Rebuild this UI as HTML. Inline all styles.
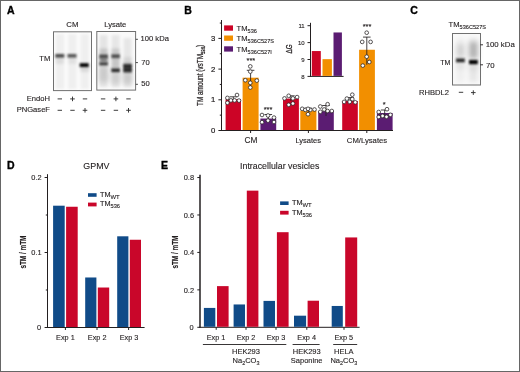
<!DOCTYPE html>
<html><head><meta charset="utf-8">
<style>
html,body{margin:0;padding:0;background:#fff;overflow:hidden;}
svg{display:block;will-change:transform;}
text{font-family:"Liberation Sans",sans-serif;fill:#231f20;stroke:#231f20;stroke-width:0.12px;}
</style></head>
<body>
<svg width="520" height="372" viewBox="0 0 520 372">
<defs>
<filter id="b06" x="-50%" y="-100%" width="200%" height="300%"><feGaussianBlur stdDeviation="0.6"/></filter>
<filter id="b09" x="-50%" y="-100%" width="200%" height="300%"><feGaussianBlur stdDeviation="0.9"/></filter>
<filter id="b11" x="-50%" y="-100%" width="200%" height="300%"><feGaussianBlur stdDeviation="1.1"/></filter>
<filter id="b15" x="-50%" y="-50%" width="200%" height="200%"><feGaussianBlur stdDeviation="1.5"/></filter>
<filter id="b25" x="-50%" y="-50%" width="200%" height="200%"><feGaussianBlur stdDeviation="2.5"/></filter>
</defs>
<rect x="0" y="0" width="520" height="372" fill="#fff"/>
<rect x="0.5" y="0.5" width="519" height="371" fill="none" stroke="#666" stroke-width="1"/>
<text x="6.9" y="14.2" font-size="10.5" text-anchor="start" font-weight="bold" style="fill:#000;stroke:#000;stroke-width:0.35px">A</text>
<text x="72.4" y="26.7" font-size="7.8" text-anchor="middle" font-weight="normal" >CM</text>
<text x="115.3" y="26.7" font-size="7.6" text-anchor="middle" font-weight="normal" >Lysate</text>
<g>
<rect x="53.50" y="31.80" width="38.00" height="58.80" fill="#fcfcfc" />
<g filter="url(#b15)">
<rect x="55.60" y="34.00" width="8.60" height="55.00" fill="#efefef" />
<rect x="68.10" y="34.00" width="8.60" height="55.00" fill="#efefef" />
<rect x="80.50" y="34.00" width="8.60" height="55.00" fill="#efefef" />
<rect x="55.80" y="57.00" width="8.20" height="7.00" fill="#dcdcdc" />
<rect x="68.30" y="57.00" width="8.20" height="7.00" fill="#e0e0e0" />
<rect x="80.50" y="66.00" width="8.60" height="6.00" fill="#d8d8d8" />
</g>
<g filter="url(#b09)">
<rect x="55.30" y="54.00" width="9.00" height="3.60" fill="#4a4a4a" />
<rect x="67.50" y="54.00" width="9.00" height="3.60" fill="#565656" />
<rect x="79.70" y="63.20" width="9.00" height="3.80" fill="#000" />
</g>
<rect x="53.5" y="31.8" width="38" height="58.8" fill="none" stroke="#707070" stroke-width="1"/>
</g>
<g>
<rect x="96.80" y="31.50" width="38.80" height="58.60" fill="#fafafa" />
<g filter="url(#b15)">
<rect x="99.60" y="35.00" width="8.00" height="52.00" fill="#e4e4e4" />
<rect x="111.60" y="35.00" width="8.00" height="52.00" fill="#e6e6e6" />
<rect x="123.60" y="38.00" width="8.00" height="49.00" fill="#e6e6e6" />
<rect x="99.60" y="48.50" width="8.00" height="6.00" fill="#c4c4c4" />
<rect x="111.60" y="48.50" width="8.00" height="6.00" fill="#c8c8c8" />
<rect x="99.60" y="57.00" width="8.00" height="6.00" fill="#888" />
<rect x="111.60" y="57.50" width="8.00" height="11.00" fill="#c6c6c6" />
<rect x="123.60" y="57.00" width="8.00" height="7.00" fill="#d4d4d4" />
</g>
<g filter="url(#b25)">
<rect x="99.60" y="66.00" width="8.00" height="16.00" fill="#c8c8c8" />
<rect x="111.60" y="72.00" width="8.00" height="12.00" fill="#cccccc" />
<rect x="123.60" y="72.00" width="8.00" height="12.00" fill="#c8c8c8" />
</g>
<g filter="url(#b09)">
<rect x="99.30" y="54.40" width="8.60" height="4.00" fill="#4a4a4a" />
<rect x="99.30" y="62.30" width="8.60" height="3.10" fill="#3a3a3a" />
<rect x="111.30" y="54.20" width="8.60" height="4.00" fill="#505050" />
<rect x="111.30" y="68.40" width="8.60" height="3.80" fill="#2e2e2e" />
<rect x="123.30" y="63.60" width="8.60" height="9.00" fill="#444" />
<rect x="123.30" y="65.00" width="8.60" height="2.40" fill="#262626" />
<rect x="123.30" y="68.60" width="8.60" height="2.60" fill="#262626" />
</g>
<rect x="96.8" y="31.5" width="38.8" height="58.6" fill="none" stroke="#707070" stroke-width="1"/>
</g>
<line x1="135.8" y1="39.3" x2="137.9" y2="39.3" stroke="#333" stroke-width="0.9"/>
<line x1="135.8" y1="62.6" x2="137.9" y2="62.6" stroke="#333" stroke-width="0.9"/>
<line x1="135.8" y1="84.3" x2="137.9" y2="84.3" stroke="#333" stroke-width="0.9"/>
<text x="140.6" y="41.3" font-size="7.6" text-anchor="start" font-weight="normal" >100 kDa</text>
<text x="141.2" y="64.8" font-size="7.6" text-anchor="start" font-weight="normal" >70</text>
<text x="141.2" y="86.1" font-size="7.6" text-anchor="start" font-weight="normal" >50</text>
<text x="39.3" y="61.0" font-size="7.6" text-anchor="start" font-weight="normal" >TM</text>
<text x="50.0" y="100.8" font-size="7.6" text-anchor="end" font-weight="normal" >EndoH</text>
<text x="50.0" y="112.2" font-size="7.6" text-anchor="end" font-weight="normal" >PNGaseF</text>
<line x1="57.599999999999994" y1="98.9" x2="62.0" y2="98.9" stroke="#333" stroke-width="0.95"/>
<line x1="70.2" y1="98.9" x2="74.8" y2="98.9" stroke="#333" stroke-width="0.95"/>
<line x1="72.5" y1="96.60000000000001" x2="72.5" y2="101.2" stroke="#333" stroke-width="0.95"/>
<line x1="82.8" y1="98.9" x2="87.2" y2="98.9" stroke="#333" stroke-width="0.95"/>
<line x1="100.89999999999999" y1="98.9" x2="105.3" y2="98.9" stroke="#333" stroke-width="0.95"/>
<line x1="113.60000000000001" y1="98.9" x2="118.2" y2="98.9" stroke="#333" stroke-width="0.95"/>
<line x1="115.9" y1="96.60000000000001" x2="115.9" y2="101.2" stroke="#333" stroke-width="0.95"/>
<line x1="126.3" y1="98.9" x2="130.7" y2="98.9" stroke="#333" stroke-width="0.95"/>
<line x1="57.599999999999994" y1="110.3" x2="62.0" y2="110.3" stroke="#333" stroke-width="0.95"/>
<line x1="70.3" y1="110.3" x2="74.7" y2="110.3" stroke="#333" stroke-width="0.95"/>
<line x1="82.7" y1="110.3" x2="87.3" y2="110.3" stroke="#333" stroke-width="0.95"/>
<line x1="85.0" y1="108.0" x2="85.0" y2="112.6" stroke="#333" stroke-width="0.95"/>
<line x1="100.89999999999999" y1="110.3" x2="105.3" y2="110.3" stroke="#333" stroke-width="0.95"/>
<line x1="113.7" y1="110.3" x2="118.10000000000001" y2="110.3" stroke="#333" stroke-width="0.95"/>
<line x1="126.2" y1="110.3" x2="130.8" y2="110.3" stroke="#333" stroke-width="0.95"/>
<line x1="128.5" y1="108.0" x2="128.5" y2="112.6" stroke="#333" stroke-width="0.95"/>
<text x="184.3" y="14.1" font-size="10.5" text-anchor="start" font-weight="bold" style="fill:#000;stroke:#000;stroke-width:0.35px">B</text>
<line x1="221.5" y1="20.0" x2="221.5" y2="131" stroke="#231f20" stroke-width="1"/>
<line x1="221" y1="130.5" x2="393" y2="130.5" stroke="#231f20" stroke-width="1"/>
<line x1="218.4" y1="130.5" x2="221.5" y2="130.5" stroke="#231f20" stroke-width="1"/>
<text x="215.4" y="132.9" font-size="7.7" text-anchor="end" font-weight="normal" style="stroke-width:0.22px">0</text>
<line x1="218.4" y1="99.8" x2="221.5" y2="99.8" stroke="#231f20" stroke-width="1"/>
<text x="215.4" y="102.2" font-size="7.7" text-anchor="end" font-weight="normal" style="stroke-width:0.22px">1</text>
<line x1="218.4" y1="69.1" x2="221.5" y2="69.1" stroke="#231f20" stroke-width="1"/>
<text x="215.4" y="71.5" font-size="7.7" text-anchor="end" font-weight="normal" style="stroke-width:0.22px">2</text>
<line x1="218.4" y1="38.400000000000006" x2="221.5" y2="38.400000000000006" stroke="#231f20" stroke-width="1"/>
<text x="215.4" y="40.800000000000004" font-size="7.7" text-anchor="end" font-weight="normal" style="stroke-width:0.22px">3</text>
<line x1="219.8" y1="115.15" x2="221.5" y2="115.15" stroke="#231f20" stroke-width="1"/>
<line x1="219.8" y1="84.45" x2="221.5" y2="84.45" stroke="#231f20" stroke-width="1"/>
<line x1="219.8" y1="53.75" x2="221.5" y2="53.75" stroke="#231f20" stroke-width="1"/>
<line x1="219.8" y1="23.049999999999997" x2="221.5" y2="23.049999999999997" stroke="#231f20" stroke-width="1"/>
<line x1="250.6" y1="130.5" x2="250.6" y2="133" stroke="#231f20" stroke-width="1"/>
<line x1="308.4" y1="130.5" x2="308.4" y2="133" stroke="#231f20" stroke-width="1"/>
<line x1="366.8" y1="130.5" x2="366.8" y2="133" stroke="#231f20" stroke-width="1"/>
<text transform="translate(202.7,106.0) rotate(-90)" style="stroke-width:0.25px" font-size="8.2" textLength="61.2" lengthAdjust="spacingAndGlyphs">TM amount (vsTM<tspan font-size="5.4" dy="1.9">536</tspan><tspan dy="-1.9">)</tspan></text>
<text x="251.0" y="143.0" font-size="8.3" text-anchor="middle" font-weight="normal" >CM</text>
<text x="308.2" y="142.9" font-size="7.5" text-anchor="middle" font-weight="normal" >Lysates</text>
<text x="367.0" y="142.8" font-size="7.7" text-anchor="middle" font-weight="normal" >CM/Lysates</text>
<rect x="225.60" y="99.19" width="15.40" height="30.82" fill="#cc0426" />
<rect x="242.60" y="77.70" width="16.00" height="52.31" fill="#f28f00" />
<rect x="260.40" y="118.53" width="15.80" height="11.48" fill="#5b1c72" />
<rect x="283.00" y="98.57" width="15.90" height="31.44" fill="#cc0426" />
<rect x="300.30" y="110.55" width="16.10" height="19.46" fill="#f28f00" />
<rect x="318.20" y="111.16" width="15.60" height="18.85" fill="#5b1c72" />
<rect x="342.20" y="101.03" width="15.60" height="28.98" fill="#cc0426" />
<rect x="359.10" y="49.76" width="15.80" height="80.25" fill="#f28f00" />
<rect x="376.90" y="113.00" width="15.70" height="17.01" fill="#5b1c72" />
<g stroke="#231f20" stroke-width="0.85" fill="none">
<path d="M250.6 70.3V86M246.79999999999998 70.3H254.4"/>
<path d="M366.8 37.1V64.7M363.0 37.1H370.6"/>
<path d="M233.3 96.8V101M229.5 96.8H237.10000000000002"/>
<path d="M268.3 114.5V121M264.5 114.5H272.1"/>
<path d="M290.9 95.8V101M287.09999999999997 95.8H294.7"/>
<path d="M308.4 108.2V112.4M304.59999999999997 108.2H312.2"/>
<path d="M326.0 105.5V116M322.2 105.5H329.8"/>
<path d="M350.0 97.6V104M346.2 97.6H353.8"/>
<path d="M384.7 110.0V116M380.9 110.0H388.5"/>
</g>
<g fill="#fff" stroke="#231f20" stroke-width="0.75">
<circle cx="227.4" cy="97.9" r="1.85"/>
<circle cx="227.4" cy="102.8" r="1.85"/>
<circle cx="230.9" cy="100.4" r="1.85"/>
<circle cx="234.6" cy="100.4" r="1.85"/>
<circle cx="237" cy="95" r="1.85"/>
<circle cx="239" cy="100.6" r="1.85"/>
<circle cx="250.3" cy="66.4" r="1.85"/>
<circle cx="250.3" cy="71.6" r="1.85"/>
<circle cx="245.3" cy="80.2" r="1.85"/>
<circle cx="256.8" cy="80.6" r="1.85"/>
<circle cx="250.3" cy="82.8" r="1.85"/>
<circle cx="250.3" cy="87.5" r="1.85"/>
<circle cx="262" cy="115" r="1.85"/>
<circle cx="268" cy="115.5" r="1.85"/>
<circle cx="274" cy="117.6" r="1.85"/>
<circle cx="262" cy="122.2" r="1.85"/>
<circle cx="268" cy="120.6" r="1.85"/>
<circle cx="274" cy="122" r="1.85"/>
<circle cx="284.5" cy="98.4" r="1.85"/>
<circle cx="288.7" cy="95.8" r="1.85"/>
<circle cx="292.9" cy="98.4" r="1.85"/>
<circle cx="297.1" cy="97.1" r="1.85"/>
<circle cx="288.7" cy="104.8" r="1.85"/>
<circle cx="292.9" cy="103.5" r="1.85"/>
<circle cx="302.2" cy="108.8" r="1.85"/>
<circle cx="305.3" cy="109.9" r="1.85"/>
<circle cx="310.3" cy="109.9" r="1.85"/>
<circle cx="314.5" cy="109.5" r="1.85"/>
<circle cx="308" cy="114.2" r="1.85"/>
<circle cx="308" cy="108.8" r="1.85"/>
<circle cx="320.3" cy="106.5" r="1.85"/>
<circle cx="320.3" cy="111.8" r="1.85"/>
<circle cx="324.2" cy="109.5" r="1.85"/>
<circle cx="327.6" cy="104.2" r="1.85"/>
<circle cx="327.6" cy="111" r="1.85"/>
<circle cx="331.8" cy="111" r="1.85"/>
<circle cx="344.1" cy="101.9" r="1.85"/>
<circle cx="346.9" cy="98.6" r="1.85"/>
<circle cx="349.7" cy="101.9" r="1.85"/>
<circle cx="352.3" cy="99.1" r="1.85"/>
<circle cx="352.3" cy="94.7" r="1.85"/>
<circle cx="355.3" cy="102.3" r="1.85"/>
<circle cx="366.7" cy="32.7" r="1.85"/>
<circle cx="362.2" cy="41.9" r="1.85"/>
<circle cx="370.6" cy="41.9" r="1.85"/>
<circle cx="366.7" cy="56.7" r="1.85"/>
<circle cx="369.3" cy="62" r="1.85"/>
<circle cx="362.8" cy="65.6" r="1.85"/>
<circle cx="378.7" cy="112" r="1.85"/>
<circle cx="378.7" cy="117" r="1.85"/>
<circle cx="382.6" cy="115.9" r="1.85"/>
<circle cx="387" cy="109.2" r="1.85"/>
<circle cx="386.5" cy="116.8" r="1.85"/>
<circle cx="390.4" cy="114.8" r="1.85"/>
</g>
<text x="250.9" y="63.0" font-size="7.4" text-anchor="middle" font-weight="normal" >***</text>
<text x="268.0" y="112.3" font-size="7.4" text-anchor="middle" font-weight="normal" >***</text>
<text x="367.0" y="28.8" font-size="7.4" text-anchor="middle" font-weight="normal" >***</text>
<text x="384.3" y="107.0" font-size="7.4" text-anchor="middle" font-weight="normal" >*</text>
<rect x="224.10" y="25.40" width="8.90" height="5.30" fill="#cc0426" />
<rect x="224.10" y="35.50" width="8.90" height="5.30" fill="#f28f00" />
<rect x="224.10" y="46.30" width="8.90" height="5.30" fill="#5b1c72" />
<text x="236.6" y="31.0" font-size="7.6">TM<tspan font-size="5.6" dy="1.9">536</tspan></text>
<text x="236.6" y="41.3" font-size="7.6">TM<tspan font-size="5.6" dy="1.9">536C527S</tspan></text>
<text x="236.6" y="52.0" font-size="7.6">TM<tspan font-size="5.6" dy="1.9">536C527I</tspan></text>
<line x1="310.5" y1="22.8" x2="310.5" y2="76.9" stroke="#231f20" stroke-width="1"/>
<line x1="310" y1="76.4" x2="343.6" y2="76.4" stroke="#231f20" stroke-width="1"/>
<line x1="307.5" y1="76.4" x2="310.5" y2="76.4" stroke="#231f20" stroke-width="1"/>
<text x="304.7" y="78.5" font-size="6.0" text-anchor="end" font-weight="normal" >8</text>
<line x1="307.5" y1="59.5" x2="310.5" y2="59.5" stroke="#231f20" stroke-width="1"/>
<text x="304.7" y="61.6" font-size="6.0" text-anchor="end" font-weight="normal" >9</text>
<line x1="307.5" y1="42.6" x2="310.5" y2="42.6" stroke="#231f20" stroke-width="1"/>
<text x="304.7" y="44.7" font-size="6.0" text-anchor="end" font-weight="normal" >10</text>
<line x1="307.5" y1="25.700000000000003" x2="310.5" y2="25.700000000000003" stroke="#231f20" stroke-width="1"/>
<text x="304.7" y="27.800000000000004" font-size="6.0" text-anchor="end" font-weight="normal" >11</text>
<rect x="311.80" y="51.05" width="9.00" height="24.85" fill="#cc0426" />
<rect x="322.50" y="59.16" width="9.40" height="16.74" fill="#f28f00" />
<rect x="333.50" y="32.46" width="8.40" height="43.44" fill="#5b1c72" />
<text transform="translate(292.4,53.4) rotate(-90)" font-size="8.4" style="stroke-width:0.25px" textLength="9.2" lengthAdjust="spacingAndGlyphs">ΔG</text>
<text x="410.3" y="14.2" font-size="10.5" text-anchor="start" font-weight="bold" style="fill:#000;stroke:#000;stroke-width:0.35px">C</text>
<text x="448.6" y="26.8" font-size="7.6">TM<tspan font-size="5.6" dy="1.9">536C527S</tspan></text>
<g>
<rect x="452.50" y="33.50" width="28.00" height="51.50" fill="#fafafa" />
<g filter="url(#b25)">
<rect x="456.50" y="38.00" width="8.00" height="44.00" fill="#eeeeee" />
<rect x="469.00" y="38.00" width="8.80" height="44.00" fill="#e6e6e6" />
<rect x="469.00" y="42.00" width="8.80" height="16.00" fill="#b4b4b4" />
<rect x="456.50" y="44.00" width="8.00" height="13.00" fill="#d2d2d2" />
<rect x="456.50" y="63.00" width="8.00" height="6.00" fill="#e0e0e0" />
<rect x="469.00" y="65.00" width="8.80" height="6.00" fill="#dadada" />
</g>
<g filter="url(#b11)">
<rect x="456.00" y="58.50" width="8.80" height="3.80" fill="#262626" />
<rect x="469.00" y="60.00" width="8.80" height="4.20" fill="#000" />
<rect x="472.00" y="60.30" width="5.00" height="3.60" fill="#000" />
</g>
<rect x="452.5" y="33.5" width="28" height="51.5" fill="none" stroke="#707070" stroke-width="1"/>
</g>
<line x1="480.3" y1="44.8" x2="483.0" y2="44.8" stroke="#231f20" stroke-width="0.9"/>
<line x1="480.3" y1="64.8" x2="483.0" y2="64.8" stroke="#231f20" stroke-width="0.9"/>
<text x="485.7" y="47.2" font-size="7.8" text-anchor="start" font-weight="normal" >100 kDa</text>
<text x="486.0" y="68.0" font-size="7.8" text-anchor="start" font-weight="normal" >70</text>
<text x="440.3" y="65.3" font-size="7.0" text-anchor="start" font-weight="normal" >TM</text>
<text x="449.0" y="94.5" font-size="7.6" text-anchor="end" font-weight="normal" >RHBDL2</text>
<line x1="458.8" y1="92.3" x2="463.2" y2="92.3" stroke="#333" stroke-width="0.95"/>
<line x1="471.0" y1="92.6" x2="475.6" y2="92.6" stroke="#333" stroke-width="0.95"/>
<line x1="473.3" y1="90.3" x2="473.3" y2="94.89999999999999" stroke="#333" stroke-width="0.95"/>
<text x="6.9" y="169.3" font-size="10.5" text-anchor="start" font-weight="bold" style="fill:#000;stroke:#000;stroke-width:0.35px">D</text>
<text x="96.4" y="169.3" font-size="8.9" text-anchor="middle" font-weight="normal" >GPMV</text>
<line x1="47.5" y1="174.2" x2="47.5" y2="328" stroke="#231f20" stroke-width="1"/>
<line x1="47" y1="327.5" x2="144.6" y2="327.5" stroke="#231f20" stroke-width="1"/>
<line x1="44.6" y1="177.5" x2="47.5" y2="177.5" stroke="#231f20" stroke-width="1"/>
<text x="41.6" y="180.2" font-size="7.4" text-anchor="end" font-weight="normal" >0.2</text>
<line x1="44.6" y1="252.5" x2="47.5" y2="252.5" stroke="#231f20" stroke-width="1"/>
<text x="41.6" y="255.2" font-size="7.4" text-anchor="end" font-weight="normal" >0.1</text>
<line x1="44.6" y1="327.5" x2="47.5" y2="327.5" stroke="#231f20" stroke-width="1"/>
<text x="41.0" y="330.2" font-size="7.4" text-anchor="end" font-weight="normal" >0</text>
<line x1="45.8" y1="290.0" x2="47.5" y2="290.0" stroke="#231f20" stroke-width="1"/>
<line x1="45.8" y1="215.0" x2="47.5" y2="215.0" stroke="#231f20" stroke-width="1"/>
<line x1="65.4" y1="327.5" x2="65.4" y2="330" stroke="#231f20" stroke-width="1"/>
<line x1="97.0" y1="327.5" x2="97.0" y2="330" stroke="#231f20" stroke-width="1"/>
<line x1="128.6" y1="327.5" x2="128.6" y2="330" stroke="#231f20" stroke-width="1"/>
<rect x="53.10" y="205.70" width="11.60" height="121.30" fill="#104b88" />
<rect x="66.10" y="206.75" width="11.60" height="120.25" fill="#c9062a" />
<rect x="85.20" y="277.48" width="11.20" height="49.52" fill="#104b88" />
<rect x="97.80" y="287.52" width="11.40" height="39.48" fill="#c9062a" />
<rect x="117.20" y="236.30" width="11.20" height="90.70" fill="#104b88" />
<rect x="129.80" y="239.75" width="11.20" height="87.25" fill="#c9062a" />
<text transform="translate(25.6,268.6) rotate(-90)" font-size="9.4" font-weight="bold" style="stroke-width:0.15px" textLength="33" lengthAdjust="spacingAndGlyphs">sTM / mTM</text>
<text x="65.4" y="339.8" font-size="7.3" text-anchor="middle" font-weight="normal" >Exp 1</text>
<text x="97.2" y="339.8" font-size="7.3" text-anchor="middle" font-weight="normal" >Exp 2</text>
<text x="129.0" y="339.8" font-size="7.3" text-anchor="middle" font-weight="normal" >Exp 3</text>
<rect x="88.00" y="193.20" width="8.60" height="3.60" fill="#104b88" />
<rect x="88.00" y="202.60" width="8.60" height="3.80" fill="#c9062a" />
<text x="100.0" y="196.6" font-size="7.3">TM<tspan font-size="5.9" dy="2.0">WT</tspan></text>
<text x="100.0" y="206.3" font-size="7.3">TM<tspan font-size="5.7" dy="2.0">536</tspan></text>
<text x="160.9" y="168.8" font-size="10.5" text-anchor="start" font-weight="bold" style="fill:#000;stroke:#000;stroke-width:0.35px">E</text>
<text x="279.7" y="169.4" font-size="8.8" text-anchor="middle" font-weight="normal" >Intracellular vesicles</text>
<line x1="200.0" y1="174.8" x2="200.0" y2="327.8" stroke="#231f20" stroke-width="1.5"/>
<line x1="199.5" y1="327.3" x2="359.6" y2="327.3" stroke="#231f20" stroke-width="1"/>
<line x1="197.3" y1="177.54000000000002" x2="200.0" y2="177.54000000000002" stroke="#231f20" stroke-width="1"/>
<text x="194.0" y="180.24" font-size="7.4" text-anchor="end" font-weight="normal" >0.8</text>
<line x1="197.3" y1="214.98000000000002" x2="200.0" y2="214.98000000000002" stroke="#231f20" stroke-width="1"/>
<text x="194.0" y="217.68" font-size="7.4" text-anchor="end" font-weight="normal" >0.6</text>
<line x1="197.3" y1="252.42000000000002" x2="200.0" y2="252.42000000000002" stroke="#231f20" stroke-width="1"/>
<text x="194.0" y="255.12" font-size="7.4" text-anchor="end" font-weight="normal" >0.4</text>
<line x1="197.3" y1="289.86" x2="200.0" y2="289.86" stroke="#231f20" stroke-width="1"/>
<text x="194.0" y="292.56" font-size="7.4" text-anchor="end" font-weight="normal" >0.2</text>
<line x1="197.3" y1="327.3" x2="200.0" y2="327.3" stroke="#231f20" stroke-width="1"/>
<text x="193.6" y="330.0" font-size="7.4" text-anchor="end" font-weight="normal" >0</text>
<line x1="216.2" y1="327.3" x2="216.2" y2="329.8" stroke="#231f20" stroke-width="1"/>
<line x1="246.0" y1="327.3" x2="246.0" y2="329.8" stroke="#231f20" stroke-width="1"/>
<line x1="276.0" y1="327.3" x2="276.0" y2="329.8" stroke="#231f20" stroke-width="1"/>
<line x1="306.8" y1="327.3" x2="306.8" y2="329.8" stroke="#231f20" stroke-width="1"/>
<line x1="344.0" y1="327.3" x2="344.0" y2="329.8" stroke="#231f20" stroke-width="1"/>
<rect x="203.90" y="307.92" width="11.40" height="18.88" fill="#104b88" />
<rect x="217.00" y="286.12" width="11.60" height="40.68" fill="#c9062a" />
<rect x="233.60" y="304.46" width="11.40" height="22.34" fill="#104b88" />
<rect x="246.80" y="190.64" width="11.60" height="136.16" fill="#c9062a" />
<rect x="263.50" y="300.90" width="11.50" height="25.90" fill="#104b88" />
<rect x="276.90" y="232.20" width="11.70" height="94.60" fill="#c9062a" />
<rect x="294.00" y="315.69" width="12.10" height="11.11" fill="#104b88" />
<rect x="307.60" y="300.72" width="11.40" height="26.08" fill="#c9062a" />
<rect x="331.70" y="305.96" width="11.10" height="20.84" fill="#104b88" />
<rect x="345.20" y="237.44" width="12.00" height="89.36" fill="#c9062a" />
<text transform="translate(177.6,268.6) rotate(-90)" font-size="9.4" font-weight="bold" style="stroke-width:0.15px" textLength="33" lengthAdjust="spacingAndGlyphs">sTM / mTM</text>
<text x="216.0" y="339.7" font-size="7.3" text-anchor="middle" font-weight="normal" >Exp 1</text>
<text x="246.1" y="339.7" font-size="7.3" text-anchor="middle" font-weight="normal" >Exp 2</text>
<text x="276.0" y="339.7" font-size="7.3" text-anchor="middle" font-weight="normal" >Exp 3</text>
<text x="306.7" y="339.7" font-size="7.3" text-anchor="middle" font-weight="normal" >Exp 4</text>
<text x="343.8" y="339.7" font-size="7.3" text-anchor="middle" font-weight="normal" >Exp 5</text>
<line x1="202.9" y1="344.5" x2="286.3" y2="344.5" stroke="#231f20" stroke-width="0.9"/>
<line x1="292.6" y1="344.5" x2="319.6" y2="344.5" stroke="#231f20" stroke-width="0.9"/>
<line x1="333.2" y1="344.5" x2="357.2" y2="344.5" stroke="#231f20" stroke-width="0.9"/>
<text x="246.0" y="353.7" font-size="7.5" text-anchor="middle" font-weight="normal" >HEK293</text>
<text x="246.0" y="362.6" font-size="7.5" text-anchor="middle">Na<tspan font-size="5.4" dy="2.0">2</tspan><tspan dy="-2.0">CO</tspan><tspan font-size="5.4" dy="2.0">3</tspan></text>
<text x="306.7" y="353.7" font-size="7.5" text-anchor="middle" font-weight="normal" >HEK293</text>
<text x="306.7" y="362.7" font-size="7.5" text-anchor="middle" font-weight="normal" >Saponine</text>
<text x="343.8" y="353.7" font-size="7.5" text-anchor="middle" font-weight="normal" >HELA</text>
<text x="343.8" y="362.6" font-size="7.5" text-anchor="middle">Na<tspan font-size="5.4" dy="2.0">2</tspan><tspan dy="-2.0">CO</tspan><tspan font-size="5.4" dy="2.0">3</tspan></text>
<rect x="280.10" y="201.40" width="8.50" height="3.60" fill="#104b88" />
<rect x="280.10" y="210.80" width="8.50" height="3.80" fill="#c9062a" />
<text x="292.0" y="205.0" font-size="7.3">TM<tspan font-size="5.9" dy="2.0">WT</tspan></text>
<text x="292.0" y="214.5" font-size="7.3">TM<tspan font-size="5.7" dy="2.0">536</tspan></text>
</svg>
</body></html>
